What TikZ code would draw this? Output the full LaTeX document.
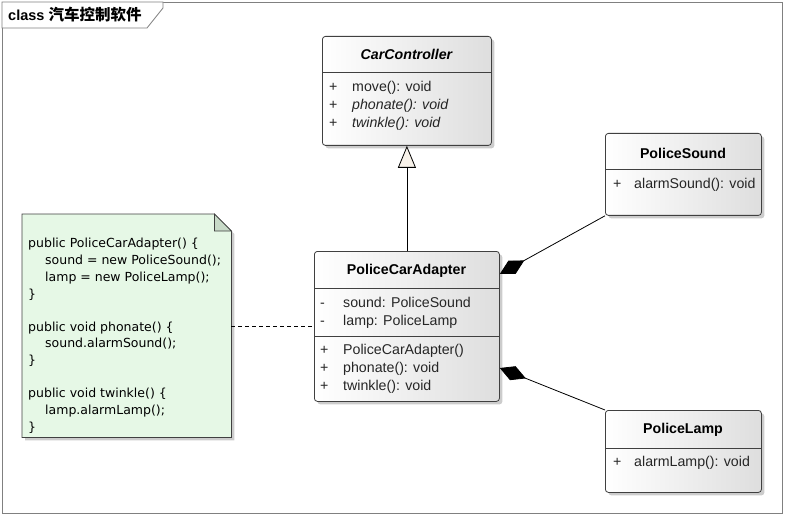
\documentclass[tikz,border=0pt]{standalone}
\usepackage{fontspec}
\setmainfont{Liberation Sans}
\newfontfamily\cjk{Noto Sans CJK SC}
\newfontfamily\notefont{DejaVu Sans}
\usetikzlibrary{arrows.meta,shadows,calc}
\definecolor{framecol}{HTML}{808080}
\definecolor{border}{HTML}{404040}
\definecolor{notefill}{HTML}{E6F8E6}
\definecolor{foldfill}{HTML}{C8DAC8}
\definecolor{trifill}{HTML}{F8F2EA}
\def\cf{\fontsize{14.2}{16}\selectfont}
\tikzset{
  classbox/.style={draw=border, line width=0.8pt, rounded corners=3pt,
    left color=white, right color=black!13, anchor=north west, inner sep=0pt,
    drop shadow={shadow xshift=3pt, shadow yshift=-3pt, fill=black!40, opacity=0.5}},
  sep/.style={draw=border, line width=0.8pt},
  ctitle/.style={font=\cf\bfseries, inner sep=0pt},
  memb/.style={font=\cf, inner sep=0pt, anchor=west, text=black!85, text height=10pt, text depth=2.5pt, yshift=-1.5pt},
  notetext/.style={font=\notefont\fontsize{12.5}{15}\selectfont, inner sep=0pt, anchor=west, text height=9pt, text depth=2.5pt, yshift=-1.5pt},
  conn/.style={draw=black, line width=0.8pt}
}
\begin{document}
\begin{tikzpicture}[x=1pt,y=-1pt]
\useasboundingbox (0,0) rectangle (785,516);
% frame
\node[draw=framecol, line width=0.8pt, minimum width=780pt, minimum height=511pt, anchor=north west, inner sep=0pt] (frame) at (2,2) {};
\path[draw=framecol, line width=0.8pt, fill=white] (frame.north west) -- (163,2) -- (163,8) -- (147,28) -- (2,28) -- cycle;
\node[anchor=west, inner sep=0pt] (ttl) at (8,15) {\fontsize{14.5}{16}\selectfont\bfseries class {\cjk\bfseries\fontsize{15.5}{16}\selectfont 汽车控制软件}};

% CarController
\node[classbox, minimum width=169pt, minimum height=109pt] (cc) at (322,36) {};
\draw[sep] (cc.west |- 0,72) -- (cc.east |- 0,72);
\node[ctitle, font=\cf\bfseries\itshape] (ccT) at (406.5,54) {CarController};
\node[memb] (cc1a) at (329,86) {+};
\node[memb] (cc1b) at (352,86) {move(): void};
\node[memb] (cc2a) at (329,104) {+};
\node[memb, font=\cf\itshape] (cc2b) at (352,104) {phonate(): void};
\node[memb] (cc3a) at (329,122) {+};
\node[memb, font=\cf\itshape] (cc3b) at (352,122) {twinkle(): void};

% PoliceCarAdapter
\node[classbox, minimum width=185pt, minimum height=150pt] (pca) at (314,251) {};
\draw[sep] (pca.west |- 0,288) -- (pca.east |- 0,288);
\draw[sep] (pca.west |- 0,336) -- (pca.east |- 0,336);
\node[ctitle] (pcaT) at (406.5,271) {PoliceCarAdapter};
\node[memb] (pa1a) at (320,302) {-};
\node[memb] (pa1b) at (343,302) {sound: PoliceSound};
\node[memb] (pa2a) at (320,320) {-};
\node[memb] (pa2b) at (343,320) {lamp: PoliceLamp};
\node[memb] (po1a) at (320,349) {+};
\node[memb] (po1b) at (343,349) {PoliceCarAdapter()};
\node[memb] (po2a) at (320,367) {+};
\node[memb] (po2b) at (343,367) {phonate(): void};
\node[memb] (po3a) at (320,385) {+};
\node[memb] (po3b) at (343,385) {twinkle(): void};

% PoliceSound
\node[classbox, minimum width=156pt, minimum height=82pt] (ps) at (605,133) {};
\draw[sep] (ps.west |- 0,169) -- (ps.east |- 0,169);
\node[ctitle] (psT) at (683,153) {PoliceSound};
\node[memb] (ps1a) at (613,183) {+};
\node[memb] (ps1b) at (634,183) {alarmSound(): void};

% PoliceLamp
\node[classbox, minimum width=156pt, minimum height=82pt] (pl) at (605,410) {};
\draw[sep] (pl.west |- 0,448) -- (pl.east |- 0,448);
\node[ctitle] (plT) at (683,430) {PoliceLamp};
\node[memb] (pl1a) at (613,461) {+};
\node[memb] (pl1b) at (634,461) {alarmLamp(): void};

% Note
\node[inner sep=0pt, minimum width=209pt, minimum height=223pt, anchor=north west] (note) at (22,214) {};
\path[draw=border, line width=0.8pt, fill=notefill,
  drop shadow={shadow xshift=3pt, shadow yshift=-3pt, fill=black!40, opacity=0.5}]
  (note.north west) -- ($(note.north east)+(-17,0)$) -- ($(note.north east)+(0,17)$)
  -- (note.south east) -- (note.south west) -- cycle;
\path[draw=border, line width=0.8pt, fill=foldfill]
  ($(note.north east)+(-17,0)$) -- ($(note.north east)+(-17,17)$) -- ($(note.north east)+(0,17)$) -- cycle;
\node[notetext] (n1) at (28,243) {public PoliceCarAdapter() \{};
\node[notetext] (n2) at (45,260) {sound = new PoliceSound();};
\node[notetext] (n3) at (45,277) {lamp = new PoliceLamp();};
\node[notetext] (n4) at (28,294) {\}};
\node[notetext] (n5) at (28,327) {public void phonate() \{};
\node[notetext] (n6) at (45,343) {sound.alarmSound();};
\node[notetext] (n7) at (28,360) {\}};
\node[notetext] (n8) at (28,393) {public void twinkle() \{};
\node[notetext] (n9) at (45,410) {lamp.alarmLamp();};
\node[notetext] (n10) at (28,427) {\}};

% connectors
\draw[conn, -{Triangle[length=22pt, width=18pt, fill=trifill]}] (pca.north) -- (cc.south);
\coordinate (d1) at (pca.east |- 0,274);
\coordinate (d2) at (pca.east |- 0,368);
\draw[conn, {Diamond[length=28pt, width=15pt]}-] (d1) -- (ps.south west);
\draw[conn, {Diamond[length=28pt, width=15pt]}-] (d2) -- (pl.north west);
\draw[conn, dash pattern=on 4pt off 3pt] (note.east |- 0,326) -- (pca.west |- 0,326);
\end{tikzpicture}
\end{document}
